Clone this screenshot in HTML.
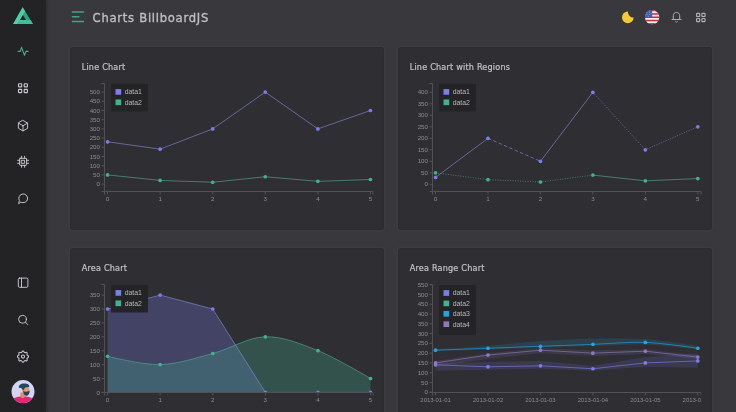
<!DOCTYPE html>
<html><head><meta charset="utf-8"><style>
*{margin:0;padding:0;box-sizing:border-box}
html,body{width:736px;height:412px;overflow:hidden;background:#39383d}
body{position:relative;font-family:"Liberation Sans",sans-serif}
.abs{position:absolute}
.side{position:absolute;left:0;top:0;width:45.5px;height:412px;background:#232225;box-shadow:1px 0 3px rgba(0,0,0,.25)}
.card{position:absolute;width:314px;height:183px;background:#2f2e33;border-radius:3px;box-shadow:0 0 0 1.5px rgba(255,255,255,.025),inset 0 0 1.5px rgba(0,0,0,.25)}
.card svg{position:absolute;left:0;top:0;overflow:hidden}
.ct{position:absolute;left:11.7px;top:15.3px;font:400 8.1px "DejaVu Sans",sans-serif;color:#c3c2c6;-webkit-text-stroke:0.2px #c3c2c6;white-space:nowrap;letter-spacing:0.2px}
.htitle{position:absolute;left:92.6px;top:10.9px;font:400 11.6px "DejaVu Sans",sans-serif;letter-spacing:0.72px;-webkit-text-stroke:0.35px #bfbec2;color:#bfbec2;white-space:nowrap}
svg text{font-family:"Liberation Sans",sans-serif;font-size:6.2px;fill:#8d8c91}
svg text.dt{font-size:5.95px}
svg text.lg{font-size:6.9px;fill:#b9b8bc}
.dom{fill:none;stroke:#525156;stroke-width:1}
.ln{fill:none;stroke-width:0.65}
</style></head><body>
<div class="side"></div>
<svg class="abs" style="left:0;top:0" width="46" height="412" viewBox="0 0 46 412">
<g>
<polygon points="22.7,7.3 13.1,23.9 32.9,23.9" fill="#2ea383"/>
<polygon points="22.7,7.3 13.1,23.9 17.4,23.9 19.9,20 22.9,14.9 25.0,11.3" fill="#4fcfa6"/>
<polygon points="17.4,23.9 32.9,23.9 30.6,20 19.9,20" fill="#3dbf98"/>
<polygon points="22.9,14.9 19.9,20 26,20" fill="#232225"/>
</g>
<g fill="none" stroke="#3fb08d" stroke-width="1.1" stroke-linecap="round" stroke-linejoin="round">
<polyline points="18.1,51.4 20.2,51.4 21.5,47.3 24.5,55.2 25.9,51.4 28,51.4"/>
</g>
<g fill="none" stroke="#c9c8cd" stroke-width="0.95" stroke-linecap="round" stroke-linejoin="round">
<g stroke-width="1.15">
<rect x="18.5" y="83.7" width="3.2" height="3.2" rx="0.7"/>
<rect x="24.2" y="83.7" width="3.2" height="3.2" rx="0.7"/>
<rect x="18.5" y="89.4" width="3.2" height="3.2" rx="0.7"/>
<rect x="24.2" y="89.4" width="3.2" height="3.2" rx="0.7"/>
</g>
<path d="M23,120.5L27.6,123.1V128.3L23,130.9L18.4,128.3V123.1Z M23,125.7L27.6,123.1 M23,125.7V130.9 M23,125.7L18.4,123.1"/>
<rect x="19.6" y="158.3" width="7" height="7" rx="0.6"/>
<rect x="21.6" y="160.3" width="3" height="3"/>
<path d="M17.6,160.3H19.6 M17.6,163.3H19.6 M26.6,160.3H28.6 M26.6,163.3H28.6 M21.6,156.3V158.3 M24.6,156.3V158.3 M21.6,165.3V167.3 M24.6,165.3V167.3"/>
<path d="M18.7,203.3L19.4,200.6A4.4,4.4 0 1 1 21.2,202.3Z"/>
<rect x="18.3" y="278.1" width="9.6" height="9.2" rx="1.2"/>
<path d="M21.5,278.1V287.3"/>
<circle cx="22.5" cy="319.3" r="3.9"/>
<path d="M25.4,322.2L27.8,324.6"/>
</g>
<g fill="none" stroke="#c9c8cd" stroke-width="0.95" stroke-linejoin="round">
<g transform="translate(15.56 349.16) scale(0.62)" stroke-width="1.7">
<path d="M10.325 4.317c.426 -1.756 2.924 -1.756 3.35 0a1.724 1.724 0 0 0 2.573 1.066c1.543 -.94 3.31 .826 2.37 2.37a1.724 1.724 0 0 0 1.065 2.572c1.756 .426 1.756 2.924 0 3.35a1.724 1.724 0 0 0 -1.066 2.573c.94 1.543 -.826 3.31 -2.37 2.37a1.724 1.724 0 0 0 -2.572 1.065c-.426 1.756 -2.924 1.756 -3.35 0a1.724 1.724 0 0 0 -2.573 -1.066c-1.543 .94 -3.31 -.826 -2.37 -2.37a1.724 1.724 0 0 0 -1.065 -2.572c-1.756 -.426 -1.756 -2.924 0 -3.35a1.724 1.724 0 0 0 1.066 -2.573c-.94 -1.543 .826 -3.31 2.37 -2.37c1 .608 2.296 .07 2.572 -1.065z"/>
<circle cx="12" cy="12" r="2.5"/>
</g>
</g>
<g>
<clipPath id="av"><circle cx="23" cy="391.6" r="11.5"/></clipPath>
<circle cx="23" cy="391.6" r="11.5" fill="#d2d5f6"/>
<g clip-path="url(#av)">
<path d="M10,406 L12,399.5 C15,397 19,396.3 23,396.3 C27,396.3 31,397 34,399.5 L36,406Z" fill="#ee2178"/>
<path d="M20.3,392.5 L20.3,397 C21.5,398.2 23.8,398.2 24.8,397 L24.8,392.5Z" fill="#e58a5c"/>
<ellipse cx="25.8" cy="390.3" rx="3.6" ry="4.4" fill="#e8956a"/>
<path d="M23.3,390.8 C24.5,392.2 27.5,392 29.5,390.4 C29.9,393.5 28.3,395.7 26,395.7 C24.2,395.7 23.2,393.8 23.3,390.8Z" fill="#1f4752"/>
<path d="M18.8,387.6 C18.6,385.2 21,383.6 24,383.6 C27,383.2 29.4,384.4 29.3,386.6 C28.5,387.5 27,387.3 25.5,387.6 C24.5,388.3 24,389.3 23.6,390.6 C22.7,389.8 21.8,388.6 21,387.8 C20.3,388.1 19.5,388.1 18.8,387.6Z" fill="#1f4b57"/>
<circle cx="27.4" cy="389" r="1.1" fill="none" stroke="#aeb8c0" stroke-width="0.5"/>
</g>
</g>
</svg>
<svg class="abs" style="left:66px;top:0" width="22" height="34" viewBox="66 0 22 34">
<g stroke="#3ea585" stroke-width="1.55" stroke-linecap="round">
<path d="M72.4,12H83.5 M72.4,16.7H78.8 M72.4,21.4H83.5"/>
</g></svg>
<div class="htitle">Charts BillboardJS</div>
<svg class="abs" style="left:610px;top:0" width="126" height="34" viewBox="610 0 126 34">
<mask id="mm"><rect x="610" y="0" width="40" height="34" fill="#fff"/><circle cx="633.4" cy="12.2" r="5.4" fill="#000"/></mask>
<circle cx="627.8" cy="17.4" r="5.8" fill="#f7c933" mask="url(#mm)"/>
<clipPath id="fl"><circle cx="652.1" cy="17.2" r="7.1"/></clipPath>
<g clip-path="url(#fl)">
<rect x="644" y="9" width="17" height="17" fill="#f1eef0"/>
<g fill="#d3263f">
<rect x="644" y="9" width="17" height="2.2"/>
<rect x="644" y="13.2" width="17" height="1.5"/>
<rect x="644" y="16.5" width="17" height="1.5"/>
<rect x="644" y="19.8" width="17" height="1.5"/>
<rect x="644" y="23.1" width="17" height="2"/>
</g>
<rect x="644" y="9" width="8.2" height="8.6" fill="#3d5db0"/>
<g fill="#dfe4f5"><circle cx="647" cy="12" r="0.45"/><circle cx="649.4" cy="12" r="0.45"/><circle cx="647" cy="14.3" r="0.45"/><circle cx="649.4" cy="14.3" r="0.45"/><circle cx="651.2" cy="13.1" r="0.45"/><circle cx="648.2" cy="16.2" r="0.45"/></g>
</g>
<g fill="none" stroke="#b3b2b7" stroke-width="0.95" stroke-linecap="round" stroke-linejoin="round">
<path d="M672,19.5H681 M673.3,19.5V15.8C673.3,13.7 674.7,12.4 676.5,12.4C678.3,12.4 679.7,13.7 679.7,15.8V19.5 M675.7,21.5L676.5,22.3L677.3,21.5"/>
<g stroke-width="1.15">
<rect x="696.6" y="13.4" width="3.1" height="3.1" rx="0.6"/>
<rect x="701.9" y="13.4" width="3.1" height="3.1" rx="0.6"/>
<rect x="696.6" y="18.5" width="3.1" height="3.1" rx="0.6"/>
<rect x="701.9" y="18.5" width="3.1" height="3.1" rx="0.6"/>
</g>
</g>
</svg>
<div class="card" style="left:70px;top:47px">
<div class="ct">Line Chart</div>
<svg width="314" height="183" viewBox="0 0 314 183">
<defs><clipPath id="c1"><rect x="34.5" y="30" width="268.5" height="114.5"/></clipPath></defs>
<g clip-path="url(#c1)">
<path d="M37.55,94.78L90.13,102.14L142.71,81.9L195.29,45.1L247.87,81.9L300.45,63.5" stroke="#8586d8" class="ln"/>
<path d="M37.55,127.9L90.13,133.42L142.71,135.26L195.29,129.74L247.87,134.34L300.45,132.5" stroke="#52a98e" class="ln"/>
<circle cx="37.55" cy="94.78" r="1.85" fill="#7b7cf0"/>
<circle cx="90.13" cy="102.14" r="1.85" fill="#7b7cf0"/>
<circle cx="142.71" cy="81.9" r="1.85" fill="#7b7cf0"/>
<circle cx="195.29" cy="45.1" r="1.85" fill="#7b7cf0"/>
<circle cx="247.87" cy="81.9" r="1.85" fill="#7b7cf0"/>
<circle cx="300.45" cy="63.5" r="1.85" fill="#7b7cf0"/>
<circle cx="37.55" cy="127.9" r="1.85" fill="#3db48b"/>
<circle cx="90.13" cy="133.42" r="1.85" fill="#3db48b"/>
<circle cx="142.71" cy="135.26" r="1.85" fill="#3db48b"/>
<circle cx="195.29" cy="129.74" r="1.85" fill="#3db48b"/>
<circle cx="247.87" cy="134.34" r="1.85" fill="#3db48b"/>
<circle cx="300.45" cy="132.5" r="1.85" fill="#3db48b"/>
</g>
<path d="M31.5,36.5H34.5V144.5H31.5" class="dom"/>
<path d="M31.5,137.1H34.5" class="dom"/>
<text x="30" y="139.2" text-anchor="end">0</text>
<path d="M31.5,127.9H34.5" class="dom"/>
<text x="30" y="130" text-anchor="end">50</text>
<path d="M31.5,118.7H34.5" class="dom"/>
<text x="30" y="120.8" text-anchor="end">100</text>
<path d="M31.5,109.5H34.5" class="dom"/>
<text x="30" y="111.6" text-anchor="end">150</text>
<path d="M31.5,100.3H34.5" class="dom"/>
<text x="30" y="102.4" text-anchor="end">200</text>
<path d="M31.5,91.1H34.5" class="dom"/>
<text x="30" y="93.2" text-anchor="end">250</text>
<path d="M31.5,81.9H34.5" class="dom"/>
<text x="30" y="84" text-anchor="end">300</text>
<path d="M31.5,72.7H34.5" class="dom"/>
<text x="30" y="74.8" text-anchor="end">350</text>
<path d="M31.5,63.5H34.5" class="dom"/>
<text x="30" y="65.6" text-anchor="end">400</text>
<path d="M31.5,54.3H34.5" class="dom"/>
<text x="30" y="56.4" text-anchor="end">450</text>
<path d="M31.5,45.1H34.5" class="dom"/>
<text x="30" y="47.2" text-anchor="end">500</text>
<path d="M34.5,147.5V144.5H303.0V147.5" class="dom"/>
<path d="M37.55,144.5V147.5" class="dom"/>
<text x="37.55" y="153.6" text-anchor="middle">0</text>
<path d="M90.13,144.5V147.5" class="dom"/>
<text x="90.13" y="153.6" text-anchor="middle">1</text>
<path d="M142.71,144.5V147.5" class="dom"/>
<text x="142.71" y="153.6" text-anchor="middle">2</text>
<path d="M195.29,144.5V147.5" class="dom"/>
<text x="195.29" y="153.6" text-anchor="middle">3</text>
<path d="M247.87,144.5V147.5" class="dom"/>
<text x="247.87" y="153.6" text-anchor="middle">4</text>
<path d="M300.45,144.5V147.5" class="dom"/>
<text x="300.45" y="153.6" text-anchor="middle">5</text>
<rect x="41" y="36.9" width="37" height="27.6" fill="#242326"/>
<rect x="45.5" y="42.05" width="5.7" height="5.7" fill="#7b7cf0"/>
<text x="54.7" y="47.3" class="lg">data1</text>
<rect x="45.5" y="52.45" width="5.7" height="5.7" fill="#3db48b"/>
<text x="54.7" y="57.7" class="lg">data2</text>
</svg></div>
<div class="card" style="left:398px;top:47px">
<div class="ct">Line Chart with Regions</div>
<svg width="314" height="183" viewBox="0 0 314 183">
<defs><clipPath id="c2"><rect x="34.5" y="30" width="268.5" height="114.5"/></clipPath></defs>
<g clip-path="url(#c2)">
<path d="M37.55,130.4L90,91.3" stroke="#8586d8" class="ln"/>
<path d="M90,91.3L142.45,114.3" stroke="#8586d8" class="ln" stroke-dasharray="3.6 2.2"/>
<path d="M142.45,114.3L194.9,45.3" stroke="#8586d8" class="ln"/>
<path d="M194.9,45.3L247.35,102.8L299.8,79.8" stroke="#8586d8" class="ln" stroke-dasharray="1 1.5"/>
<path d="M37.55,125.8L90,132.7L142.45,135L194.9,128.1" stroke="#52a98e" class="ln" stroke-dasharray="1 1.5"/>
<path d="M194.9,128.1L247.35,133.85L299.8,131.55" stroke="#52a98e" class="ln"/>
<circle cx="37.55" cy="130.4" r="1.85" fill="#7b7cf0"/>
<circle cx="90" cy="91.3" r="1.85" fill="#7b7cf0"/>
<circle cx="142.45" cy="114.3" r="1.85" fill="#7b7cf0"/>
<circle cx="194.9" cy="45.3" r="1.85" fill="#7b7cf0"/>
<circle cx="247.35" cy="102.8" r="1.85" fill="#7b7cf0"/>
<circle cx="299.8" cy="79.8" r="1.85" fill="#7b7cf0"/>
<circle cx="37.55" cy="125.8" r="1.85" fill="#3db48b"/>
<circle cx="90" cy="132.7" r="1.85" fill="#3db48b"/>
<circle cx="142.45" cy="135" r="1.85" fill="#3db48b"/>
<circle cx="194.9" cy="128.1" r="1.85" fill="#3db48b"/>
<circle cx="247.35" cy="133.85" r="1.85" fill="#3db48b"/>
<circle cx="299.8" cy="131.55" r="1.85" fill="#3db48b"/>
</g>
<path d="M31.5,36.5H34.5V144.5H31.5" class="dom"/>
<path d="M31.5,137.3H34.5" class="dom"/>
<text x="30" y="139.4" text-anchor="end">0</text>
<path d="M31.5,125.8H34.5" class="dom"/>
<text x="30" y="127.9" text-anchor="end">50</text>
<path d="M31.5,114.3H34.5" class="dom"/>
<text x="30" y="116.4" text-anchor="end">100</text>
<path d="M31.5,102.8H34.5" class="dom"/>
<text x="30" y="104.9" text-anchor="end">150</text>
<path d="M31.5,91.3H34.5" class="dom"/>
<text x="30" y="93.4" text-anchor="end">200</text>
<path d="M31.5,79.8H34.5" class="dom"/>
<text x="30" y="81.9" text-anchor="end">250</text>
<path d="M31.5,68.3H34.5" class="dom"/>
<text x="30" y="70.4" text-anchor="end">300</text>
<path d="M31.5,56.8H34.5" class="dom"/>
<text x="30" y="58.9" text-anchor="end">350</text>
<path d="M31.5,45.3H34.5" class="dom"/>
<text x="30" y="47.4" text-anchor="end">400</text>
<path d="M34.5,147.5V144.5H303.0V147.5" class="dom"/>
<path d="M37.55,144.5V147.5" class="dom"/>
<text x="37.55" y="153.6" text-anchor="middle">0</text>
<path d="M90,144.5V147.5" class="dom"/>
<text x="90" y="153.6" text-anchor="middle">1</text>
<path d="M142.45,144.5V147.5" class="dom"/>
<text x="142.45" y="153.6" text-anchor="middle">2</text>
<path d="M194.9,144.5V147.5" class="dom"/>
<text x="194.9" y="153.6" text-anchor="middle">3</text>
<path d="M247.35,144.5V147.5" class="dom"/>
<text x="247.35" y="153.6" text-anchor="middle">4</text>
<path d="M299.8,144.5V147.5" class="dom"/>
<text x="299.8" y="153.6" text-anchor="middle">5</text>
<rect x="41" y="36.9" width="37" height="27.6" fill="#242326"/>
<rect x="45.5" y="42.05" width="5.7" height="5.7" fill="#7b7cf0"/>
<text x="54.7" y="47.3" class="lg">data1</text>
<rect x="45.5" y="52.45" width="5.7" height="5.7" fill="#3db48b"/>
<text x="54.7" y="57.7" class="lg">data2</text>
</svg></div>
<div class="card" style="left:70px;top:248px">
<div class="ct">Area Chart</div>
<svg width="314" height="183" viewBox="0 0 314 183">
<defs><clipPath id="c3"><rect x="34.5" y="30" width="268.5" height="114.5"/></clipPath></defs>
<g clip-path="url(#c3)">
<path d="M37.55,61L90.15,47.1L142.75,61L195.35,144.4L247.95,144.4L300.55,144.4L300.55,144.4L37.55,144.4Z" fill="#7b7cf0" fill-opacity="0.27"/>
<path d="M37.55,108.26C37.55,108.26,72.62,117.06,90.15,116.6C107.68,116.14,125.22,110.11,142.75,105.48C160.28,100.85,177.82,89.26,195.35,88.8C212.88,88.34,230.42,95.75,247.95,102.7C265.48,109.65,300.55,130.5,300.55,130.5L300.55,144.4L37.55,144.4Z" fill="#3db48b" fill-opacity="0.27"/>
<path d="M37.55,61L90.15,47.1L142.75,61L195.35,144.4L247.95,144.4L300.55,144.4" stroke="#8586d8" class="ln"/>
<path d="M37.55,108.26C37.55,108.26,72.62,117.06,90.15,116.6C107.68,116.14,125.22,110.11,142.75,105.48C160.28,100.85,177.82,89.26,195.35,88.8C212.88,88.34,230.42,95.75,247.95,102.7C265.48,109.65,300.55,130.5,300.55,130.5" stroke="#52a98e" class="ln"/>
<circle cx="37.55" cy="61" r="1.85" fill="#7b7cf0"/>
<circle cx="90.15" cy="47.1" r="1.85" fill="#7b7cf0"/>
<circle cx="142.75" cy="61" r="1.85" fill="#7b7cf0"/>
<circle cx="195.35" cy="144.4" r="1.85" fill="#7b7cf0"/>
<circle cx="247.95" cy="144.4" r="1.85" fill="#7b7cf0"/>
<circle cx="300.55" cy="144.4" r="1.85" fill="#7b7cf0"/>
<circle cx="37.55" cy="108.26" r="1.85" fill="#3db48b"/>
<circle cx="90.15" cy="116.6" r="1.85" fill="#3db48b"/>
<circle cx="142.75" cy="105.48" r="1.85" fill="#3db48b"/>
<circle cx="195.35" cy="88.8" r="1.85" fill="#3db48b"/>
<circle cx="247.95" cy="102.7" r="1.85" fill="#3db48b"/>
<circle cx="300.55" cy="130.5" r="1.85" fill="#3db48b"/>
</g>
<path d="M31.5,36.5H34.5V144.5H31.5" class="dom"/>
<path d="M31.5,144.4H34.5" class="dom"/>
<text x="30" y="146.5" text-anchor="end">0</text>
<path d="M31.5,130.5H34.5" class="dom"/>
<text x="30" y="132.6" text-anchor="end">50</text>
<path d="M31.5,116.6H34.5" class="dom"/>
<text x="30" y="118.7" text-anchor="end">100</text>
<path d="M31.5,102.7H34.5" class="dom"/>
<text x="30" y="104.8" text-anchor="end">150</text>
<path d="M31.5,88.8H34.5" class="dom"/>
<text x="30" y="90.9" text-anchor="end">200</text>
<path d="M31.5,74.9H34.5" class="dom"/>
<text x="30" y="77" text-anchor="end">250</text>
<path d="M31.5,61H34.5" class="dom"/>
<text x="30" y="63.1" text-anchor="end">300</text>
<path d="M31.5,47.1H34.5" class="dom"/>
<text x="30" y="49.2" text-anchor="end">350</text>
<path d="M34.5,147.5V144.5H303.0V147.5" class="dom"/>
<path d="M37.55,144.5V147.5" class="dom"/>
<text x="37.55" y="153.6" text-anchor="middle">0</text>
<path d="M90.15,144.5V147.5" class="dom"/>
<text x="90.15" y="153.6" text-anchor="middle">1</text>
<path d="M142.75,144.5V147.5" class="dom"/>
<text x="142.75" y="153.6" text-anchor="middle">2</text>
<path d="M195.35,144.5V147.5" class="dom"/>
<text x="195.35" y="153.6" text-anchor="middle">3</text>
<path d="M247.95,144.5V147.5" class="dom"/>
<text x="247.95" y="153.6" text-anchor="middle">4</text>
<path d="M300.55,144.5V147.5" class="dom"/>
<text x="300.55" y="153.6" text-anchor="middle">5</text>
<rect x="41" y="36.9" width="37" height="27.6" fill="#242326"/>
<rect x="45.5" y="42.05" width="5.7" height="5.7" fill="#7b7cf0"/>
<text x="54.7" y="47.3" class="lg">data1</text>
<rect x="45.5" y="52.45" width="5.7" height="5.7" fill="#3db48b"/>
<text x="54.7" y="57.7" class="lg">data2</text>
</svg></div>
<div class="card" style="left:398px;top:248px">
<div class="ct">Area Range Chart</div>
<svg width="314" height="183" viewBox="0 0 314 183">
<defs><clipPath id="c4"><rect x="34.5" y="30" width="268.5" height="114.5"/></clipPath></defs>
<g clip-path="url(#c4)">
<path d="M37.55,114.9L90,113.93L142.45,112.95L194.9,117.83L247.35,109.05L299.8,105.34L299.8,119.79L247.35,118.81L194.9,122.72L142.45,120.76L90,121.74L37.55,122.72Z" fill="#7b7cf0" fill-opacity="0.15"/>
<path d="M37.55,101.23C37.55,101.23,72.52,99.09,90,97.72C107.48,96.35,124.97,94.24,142.45,93.03C159.93,91.83,177.42,90.82,194.9,90.49C212.38,90.17,229.87,89.81,247.35,91.08C264.83,92.35,299.8,98.11,299.8,98.11L299.8,101.62C299.8,101.62,264.83,97.13,247.35,96.55C229.87,95.96,212.38,97.59,194.9,98.11C177.42,98.63,159.93,99.12,142.45,99.67C124.97,100.22,107.48,100.84,90,101.43C72.52,102.02,37.55,103.19,37.55,103.19Z" fill="#1ea6e2" fill-opacity="0.15"/>
<path d="M37.55,112.95L90,105.14L142.45,100.26L194.9,102.21L247.35,101.23L299.8,107.09L299.8,111L247.35,106.12L194.9,108.07L142.45,105.14L90,111L37.55,118.81Z" fill="#9077c0" fill-opacity="0.15"/>
<path d="M37.55,116.86L90,118.81L142.45,117.83L194.9,120.76L247.35,114.9L299.8,112.95" stroke="#7b7cf0" class="ln"/>
<circle cx="37.55" cy="116.86" r="1.85" fill="#7b7cf0"/>
<circle cx="90" cy="118.81" r="1.85" fill="#7b7cf0"/>
<circle cx="142.45" cy="117.83" r="1.85" fill="#7b7cf0"/>
<circle cx="194.9" cy="120.76" r="1.85" fill="#7b7cf0"/>
<circle cx="247.35" cy="114.9" r="1.85" fill="#7b7cf0"/>
<circle cx="299.8" cy="112.95" r="1.85" fill="#7b7cf0"/>
<path d="M37.55,102.21C37.55,102.21,72.52,100.91,90,100.26C107.48,99.61,124.97,98.96,142.45,98.3C159.93,97.65,177.42,97,194.9,96.35C212.38,95.7,229.87,93.75,247.35,94.4C264.83,95.05,299.8,100.26,299.8,100.26" stroke="#1ea6e2" class="ln"/>
<circle cx="37.55" cy="102.21" r="1.85" fill="#1ea6e2"/>
<circle cx="90" cy="100.26" r="1.85" fill="#1ea6e2"/>
<circle cx="142.45" cy="98.3" r="1.85" fill="#1ea6e2"/>
<circle cx="194.9" cy="96.35" r="1.85" fill="#1ea6e2"/>
<circle cx="247.35" cy="94.4" r="1.85" fill="#1ea6e2"/>
<circle cx="299.8" cy="100.26" r="1.85" fill="#1ea6e2"/>
<path d="M37.55,114.9L90,107.09L142.45,102.21L194.9,105.14L247.35,103.19L299.8,109.05" stroke="#9077c0" class="ln"/>
<circle cx="37.55" cy="114.9" r="1.85" fill="#9077c0"/>
<circle cx="90" cy="107.09" r="1.85" fill="#9077c0"/>
<circle cx="142.45" cy="102.21" r="1.85" fill="#9077c0"/>
<circle cx="194.9" cy="105.14" r="1.85" fill="#9077c0"/>
<circle cx="247.35" cy="103.19" r="1.85" fill="#9077c0"/>
<circle cx="299.8" cy="109.05" r="1.85" fill="#9077c0"/>
</g>
<defs><clipPath id="cx4"><rect x="0" y="0" width="303" height="183"/></clipPath></defs><g clip-path="url(#cx4)"><path d="M31.5,36.5H34.5V144.5H31.5" class="dom"/>
<path d="M31.5,144.2H34.5" class="dom"/>
<text x="30" y="146.3" text-anchor="end">0</text>
<path d="M31.5,134.44H34.5" class="dom"/>
<text x="30" y="136.53" text-anchor="end">50</text>
<path d="M31.5,124.67H34.5" class="dom"/>
<text x="30" y="126.77" text-anchor="end">100</text>
<path d="M31.5,114.9H34.5" class="dom"/>
<text x="30" y="117" text-anchor="end">150</text>
<path d="M31.5,105.14H34.5" class="dom"/>
<text x="30" y="107.24" text-anchor="end">200</text>
<path d="M31.5,95.37H34.5" class="dom"/>
<text x="30" y="97.47" text-anchor="end">250</text>
<path d="M31.5,85.61H34.5" class="dom"/>
<text x="30" y="87.71" text-anchor="end">300</text>
<path d="M31.5,75.84H34.5" class="dom"/>
<text x="30" y="77.94" text-anchor="end">350</text>
<path d="M31.5,66.08H34.5" class="dom"/>
<text x="30" y="68.18" text-anchor="end">400</text>
<path d="M31.5,56.31H34.5" class="dom"/>
<text x="30" y="58.41" text-anchor="end">450</text>
<path d="M31.5,46.55H34.5" class="dom"/>
<text x="30" y="48.65" text-anchor="end">500</text>
<path d="M31.5,36.78H34.5" class="dom"/>
<text x="30" y="38.88" text-anchor="end">550</text>
<path d="M34.5,147.5V144.5H303.0V147.5" class="dom"/>
<path d="M37.55,144.5V147.5" class="dom"/>
<text x="37.55" y="153.6" text-anchor="middle" class="dt">2013-01-01</text>
<path d="M90,144.5V147.5" class="dom"/>
<text x="90" y="153.6" text-anchor="middle" class="dt">2013-01-02</text>
<path d="M142.45,144.5V147.5" class="dom"/>
<text x="142.45" y="153.6" text-anchor="middle" class="dt">2013-01-03</text>
<path d="M194.9,144.5V147.5" class="dom"/>
<text x="194.9" y="153.6" text-anchor="middle" class="dt">2013-01-04</text>
<path d="M247.35,144.5V147.5" class="dom"/>
<text x="247.35" y="153.6" text-anchor="middle" class="dt">2013-01-05</text>
<path d="M299.8,144.5V147.5" class="dom"/>
<text x="299.8" y="153.6" text-anchor="middle" class="dt">2013-01-06</text></g>
<rect x="41" y="37" width="37" height="49.9" fill="#242326"/>
<rect x="45.5" y="42.15" width="5.7" height="5.7" fill="#7b7cf0"/>
<text x="54.7" y="47.4" class="lg">data1</text>
<rect x="45.5" y="52.55" width="5.7" height="5.7" fill="#3db48b"/>
<text x="54.7" y="57.8" class="lg">data2</text>
<rect x="45.5" y="62.95" width="5.7" height="5.7" fill="#1ea6e2"/>
<text x="54.7" y="68.2" class="lg">data3</text>
<rect x="45.5" y="73.35" width="5.7" height="5.7" fill="#9077c0"/>
<text x="54.7" y="78.6" class="lg">data4</text>
</svg></div>
</body></html>
